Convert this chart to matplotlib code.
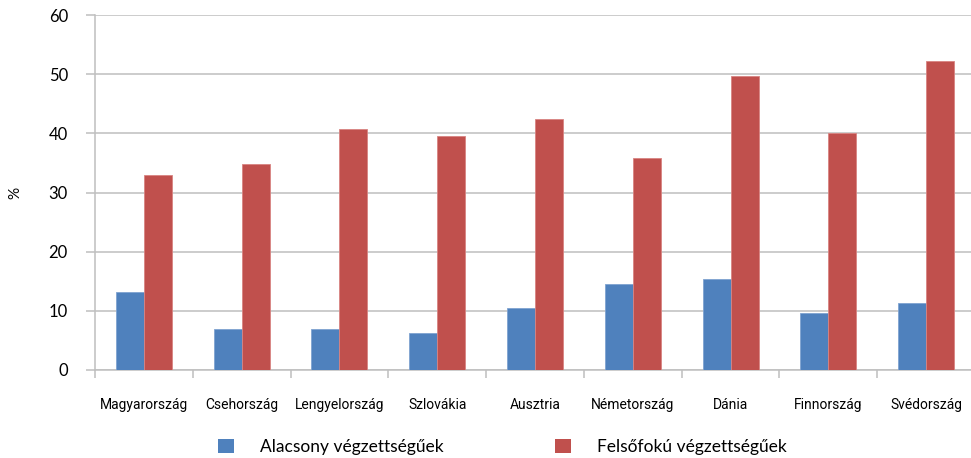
import matplotlib.pyplot as plt
from matplotlib.patches import Patch
import numpy as np

# Countries and shares (%) by education level
countries = ["Magyarország", "Csehország", "Lengyelország", "Szlovákia", "Ausztria",
             "Németország", "Dánia", "Finnország", "Svédország"]
low_edu = [13.1, 7.0, 6.9, 6.3, 10.5, 14.5, 15.3, 9.6, 11.4]
high_edu = [33.0, 34.9, 40.7, 39.5, 42.4, 35.8, 49.7, 40.1, 52.3]
series_names = ["Alacsony végzettségűek", "Felsőfokú végzettségűek"]

BLUE = "#4F81BD"
RED = "#C0504D"
GRID = "#BFBFBF"

plt.rcParams["font.family"] = ["Lato", "DejaVu Sans"]

fig = plt.figure(figsize=(9.71, 4.58), dpi=100)
ax = fig.add_axes([95 / 971, 1 - 370 / 458, 880 / 971, 355 / 458])

x = np.arange(len(countries))
w = 0.286
ax.bar(x - w / 2, low_edu, w, color=BLUE, edgecolor="#7FA3D1", linewidth=0.6, zorder=3)
ax.bar(x + w / 2, high_edu, w, color=RED, edgecolor="#D88482", linewidth=0.6, zorder=3)

ax.set_xlim(-0.5, len(countries) - 0.5)
ax.set_ylim(0, 60)
ax.set_yticks(range(0, 61, 10))
ax.yaxis.grid(True, color=GRID, linewidth=1.1, zorder=0)
ax.set_axisbelow(True)

# category labels centred, tick marks at the group boundaries
ax.set_xticks(x)
ax.set_xticklabels(countries, family=["Roboto", "DejaVu Sans"], fontsize=10)
ax.tick_params(axis="x", which="major", length=0, pad=20)
ax.set_xticks(np.arange(-0.5, len(countries)), minor=True)
ax.tick_params(axis="x", which="minor", length=6, width=1.1, color=GRID, direction="out")
ax.tick_params(axis="y", length=6.5, width=1.1, color=GRID, labelsize=12, pad=13)

for side in ["top", "right"]:
    ax.spines[side].set_visible(False)
for side in ["left", "bottom"]:
    ax.spines[side].set_color(GRID)
    ax.spines[side].set_linewidth(1.1)

fig.text(15 / 971, 1 - 193 / 458, "%", rotation=90, ha="center", va="center", fontsize=11)

handles = [Patch(facecolor=BLUE), Patch(facecolor=RED)]
fig.legend(handles, series_names, loc="center left", bbox_to_anchor=(218 / 971, 1 - 447 / 458),
           ncol=2, frameon=False, fontsize=12.5, handlelength=0.9, handleheight=0.9,
           handletextpad=1.5, columnspacing=6.45, borderpad=0, borderaxespad=0)

fig.savefig("out.png", dpi=100)
